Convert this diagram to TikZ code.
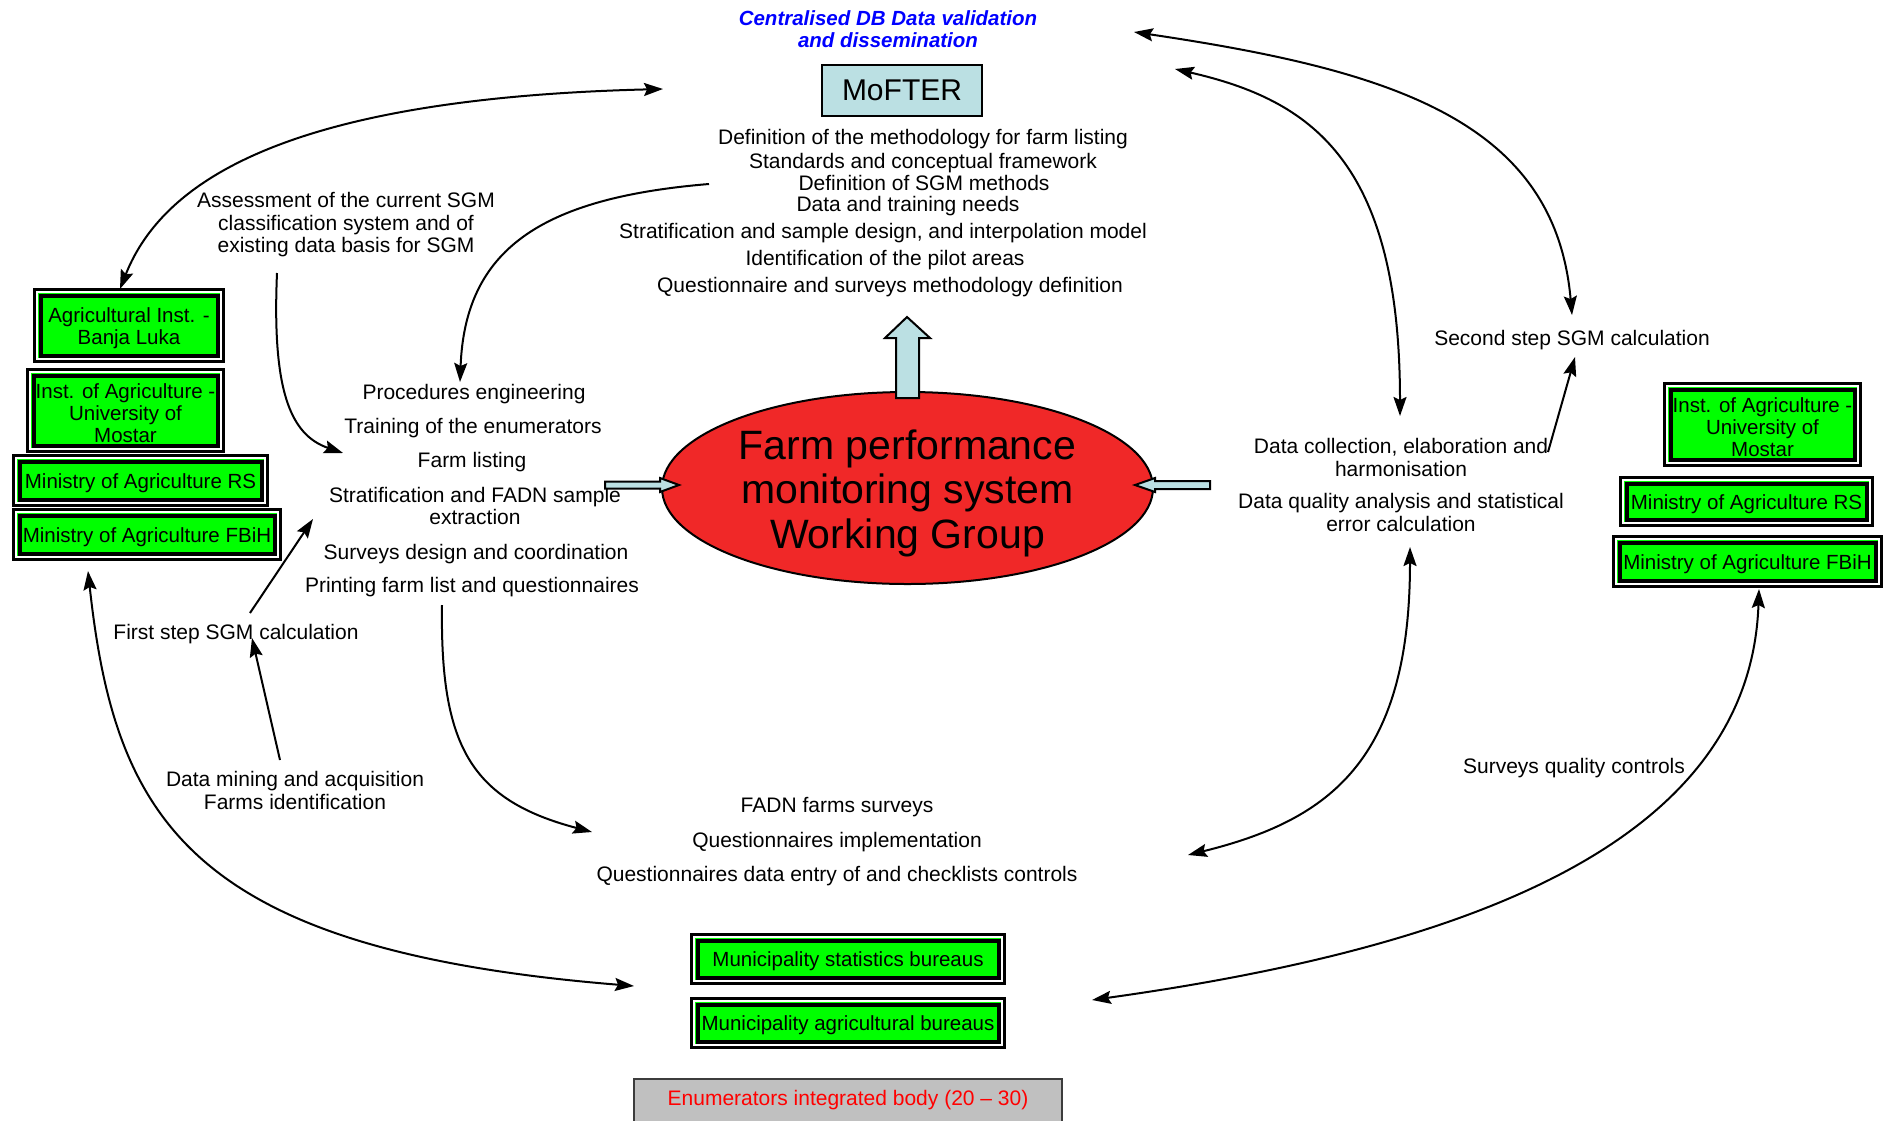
\documentclass[tikz,border=0pt]{standalone}
\usepackage{fontspec}
\setmainfont{Liberation Sans}
\usetikzlibrary{shapes.geometric,arrows.meta}
\definecolor{boxgreen}{RGB}{0,255,0}
\definecolor{lblue}{RGB}{187,224,227}
\definecolor{ellred}{RGB}{240,40,40}
\definecolor{enumgray}{RGB}{192,192,192}
\definecolor{enumborder}{RGB}{60,60,60}
\begin{document}
\begin{tikzpicture}[x=1pt,y=-1pt,
  every node/.style={font=\fontsize{21}{22.5}\selectfont, inner sep=0pt, align=center},
  lbl/.style={text height=15pt, text depth=4.5pt, yshift=-2.4pt},
  gbox/.style={fill=boxgreen, draw=black, line width=2.7pt,
    path picture={
      \draw[white, line width=1.3pt] ([xshift=2.6pt,yshift=-2.6pt]path picture bounding box.north west) rectangle ([xshift=-2.6pt,yshift=2.6pt]path picture bounding box.south east);
      \draw[black, line width=4pt] ([xshift=6pt,yshift=-6pt]path picture bounding box.north west) rectangle ([xshift=-6pt,yshift=6pt]path picture bounding box.south east);
    }},
  gtext/.style={font=\fontsize{20.5}{22.3}\selectfont, yshift=-2.6pt},
  tip/.tip={Stealth[length=19pt,width=13pt,inset=3pt]},
  conn/.style={line width=2pt, -tip},
  dconn/.style={line width=2pt, tip-tip},
  barrow/.style={fill=lblue, draw=black, line width=2pt, line join=miter}]

\fill[white] (0,0) rectangle (1885,1120);
\useasboundingbox (0,0) rectangle (1885,1120);

% title and MoFTER
\node[font=\fontsize{20.5}{22}\selectfont\bfseries\itshape, text=blue] (title) at (888,29) {Centralised DB Data validation\\and dissemination};
\node[draw=black, fill=lblue, line width=2pt, minimum width=160pt, minimum height=51pt, font=\fontsize{30}{30}\selectfont] (mof) at (902,90.5) {MoFTER};

% definition lines
\node[lbl] (d1) at (923,137) {Definition of the methodology for farm listing};
\node[lbl] (d2) at (923,161) {Standards and conceptual framework};
\node[lbl] (d3) at (924,183) {Definition of SGM methods};
\node[lbl] (d4) at (908,204) {Data and training needs};
\node[lbl] (d5) at (883,231) {Stratification and sample design, and interpolation model};
\node[lbl] (d6) at (885,258) {Identification of the pilot areas};
\node[lbl] (d7) at (890,285) {Questionnaire and surveys methodology definition};

% left text
\node (assess) at (346,225) {Assessment of the current SGM\\classification system and of\\existing data basis for SGM};
\node[lbl] (proc) at (474,392) {Procedures engineering};
\node[lbl] (train) at (473,426) {Training of the enumerators};
\node[lbl] (flist) at (472,460) {Farm listing};
\node (strat) at (475,506) {Stratification and FADN sample\\extraction};
\node[lbl] (sdesign) at (476,552) {Surveys design and coordination};
\node[lbl] (print) at (472,585) {Printing farm list and questionnaires};
\node[lbl] (first) at (236,632) {First step SGM calculation};
\node (mining) at (295,790.5) {Data mining and acquisition\\Farms identification};

% bottom text
\node[lbl] (fadn) at (837,805) {FADN farms surveys};
\node[lbl] (qimpl) at (837,840) {Questionnaires implementation};
\node[lbl] (qentry) at (837,874) {Questionnaires data entry of and checklists controls};

% right text
\node[lbl] (second) at (1572,338) {Second step SGM calculation};
\node (collect) at (1401,457.5) {Data collection, elaboration and\\harmonisation};
\node (quality) at (1401,512.5) {Data quality analysis and statistical\\error calculation};
\node[lbl] (sqc) at (1574,766) {Surveys quality controls};

% green boxes
\node[gbox, minimum width=189pt, minimum height=72pt] (l1) at (129,325.5) {};
\node[gtext] (l1t) at (l1.center) {Agricultural Inst. -\\Banja Luka};
\node[gbox, minimum width=196pt, minimum height=82pt] (l2) at (125.5,410.5) {};
\node[gtext] (l2t) at (l2.center) {Inst. of Agriculture -\\University of\\Mostar};
\node[gbox, minimum width=254pt, minimum height=50pt] (l3) at (140.5,480.5) {};
\node[gtext] (l3t) at (l3.center) {Ministry of Agriculture RS};
\node[gbox, minimum width=267pt, minimum height=50pt] (l4) at (147,534.5) {};
\node[gtext] (l4t) at (l4.center) {Ministry of Agriculture FBiH};
\node[gbox, minimum width=196pt, minimum height=82pt] (r1) at (1762.5,424.5) {};
\node[gtext] (r1t) at (r1.center) {Inst. of Agriculture -\\University of\\Mostar};
\node[gbox, minimum width=252pt, minimum height=48pt] (r2) at (1746.5,501.5) {};
\node[gtext] (r2t) at (r2.center) {Ministry of Agriculture RS};
\node[gbox, minimum width=268pt, minimum height=50pt] (r3) at (1747.5,561.5) {};
\node[gtext] (r3t) at (r3.center) {Ministry of Agriculture FBiH};
\node[gbox, minimum width=313pt, minimum height=49pt] (m1) at (848,959) {};
\node[gtext] (m1t) at (m1.center) {Municipality statistics bureaus};
\node[gbox, minimum width=313pt, minimum height=49pt] (m2) at (848,1023) {};
\node[gtext] (m2t) at (m2.center) {Municipality agricultural bureaus};
\node[draw=enumborder, fill=enumgray, line width=2pt, minimum width=428pt, minimum height=43pt, text=red] (enum) at (848,1100.5) {Enumerators integrated body (20 -- 30)};

% central ellipse
\node[ellipse, fill=ellred, draw=black, line width=2pt, minimum width=491pt, minimum height=192pt] (wg) at (907.5,488) {};
\node[font=\fontsize{41}{44.5}\selectfont, yshift=-5pt] (wgt) at (wg.center) {Farm performance\\monitoring system\\Working Group};

% block arrows
\draw[barrow] (605,481.5) -- (660,481.5) -- (660,478) -- (679,485) -- (660,492) -- (660,488.5) -- (605,488.5) -- cycle;
\draw[barrow] (1210,481) -- (1155,481) -- (1155,478) -- (1135,485) -- (1155,492) -- (1155,489) -- (1210,489) -- cycle;
\draw[barrow] (896,398) -- (896,338) -- (885,338) -- (907,317) -- (930,338) -- (919,338) -- (919,398) -- cycle;

% connector end points
\coordinate (a1s) at (120,289);   \coordinate (a1e) at (663,89);
\coordinate (a2s) at (709,184);   \coordinate (a2e) at (460,382);
\coordinate (a3s) at (277,273);   \coordinate (a3e) at (343,453);
\coordinate (a4s) at (250,613);   \coordinate (a4e) at (313,519);
\coordinate (a5s) at (280,760);   \coordinate (a5e) at (252,638);
\coordinate (a6s) at (442,605);   \coordinate (a6e) at (592,832);
\coordinate (a7s) at (88,571);    \coordinate (a7e) at (634,986);
\coordinate (a8s) at (1092,1000); \coordinate (a8e) at (1759,589);
\coordinate (a9s) at (1188,855);  \coordinate (a9e) at (1410,547);
\coordinate (a10s) at (1175,69);  \coordinate (a10e) at (1400,416);
\coordinate (a11s) at (1134,32);  \coordinate (a11e) at (1572,315);
\coordinate (a12s) at (1548,452); \coordinate (a12e) at (1575,357);

\draw[dconn] (a1s) .. controls (165,175) and (300,98) .. (a1e);
\draw[conn] (a2s) .. controls (540,198) and (465,250) .. (a2e);
\draw[conn] (a3s) .. controls (272,390) and (290,435) .. (a3e);
\draw[conn] (a4s) -- (a4e);
\draw[conn] (a5s) -- (a5e);
\draw[conn] (a6s) .. controls (440,745) and (470,800) .. (a6e);
\draw[dconn] (a7s) .. controls (115,820) and (190,950) .. (a7e);
\draw[dconn] (a8s) .. controls (1450,950) and (1750,850) .. (a8e);
\draw[dconn] (a9s) .. controls (1330,820) and (1410,760) .. (a9e);
\draw[dconn] (a10s) .. controls (1310,100) and (1400,160) .. (a10e);
\draw[dconn] (a11s) .. controls (1390,70) and (1555,120) .. (a11e);
\draw[conn] (a12s) -- (a12e);
\end{tikzpicture}
\end{document}
